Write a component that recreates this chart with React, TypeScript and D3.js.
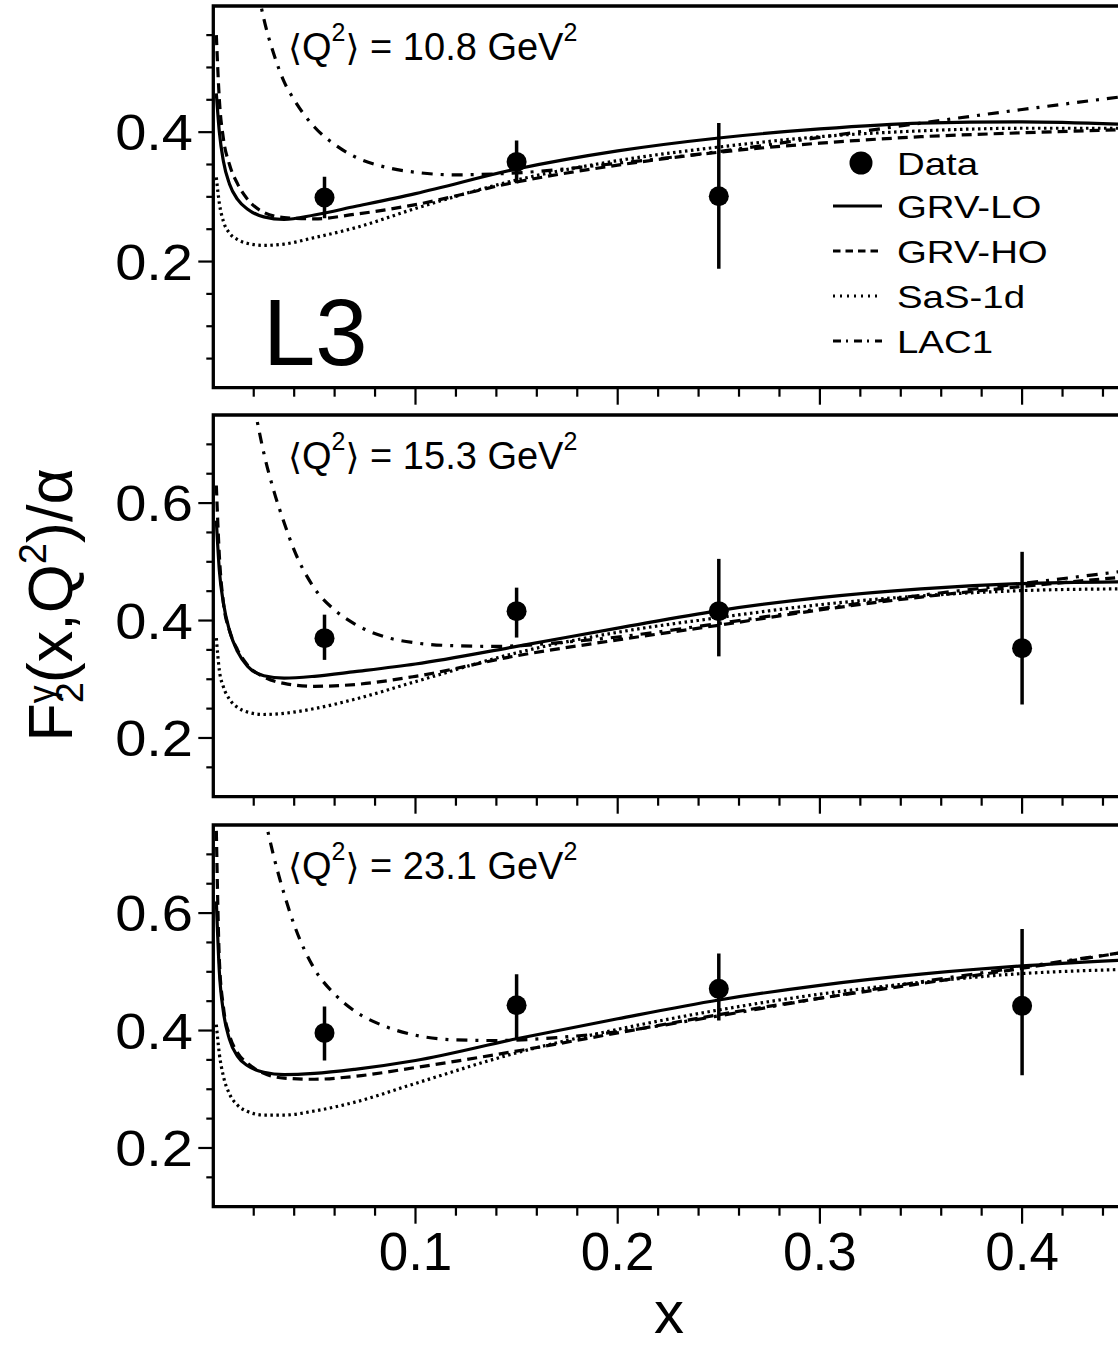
import React from 'react';
import * as d3 from 'd3';

// ---------- data ----------
const X_GRID = [0.0015, 0.003, 0.005, 0.008, 0.012, 0.017, 0.025, 0.035, 0.05, 0.07, 0.1, 0.15, 0.2, 0.25, 0.3, 0.35, 0.4, 0.45];

// Panel 1: <Q2> = 10.8 GeV2
const GRV_LO_1 = [0.46, 0.40, 0.355, 0.320, 0.296, 0.281, 0.269, 0.265, 0.272, 0.285, 0.305, 0.343, 0.371, 0.391, 0.405, 0.414, 0.416, 0.412];
const GRV_HO_1 = [0.55, 0.45, 0.39, 0.35, 0.32, 0.296, 0.276, 0.268, 0.266, 0.273, 0.288, 0.323, 0.349, 0.369, 0.383, 0.393, 0.399, 0.404];
const SAS_1 = [0.33, 0.29, 0.262, 0.244, 0.234, 0.228, 0.225, 0.227, 0.237, 0.252, 0.282, 0.326, 0.356, 0.377, 0.393, 0.402, 0.406, 0.406];
const LAC1_X_1 = [0.022, 0.025, 0.03, 0.035, 0.04, 0.05, 0.06, 0.07, 0.085, 0.1, 0.12, 0.15, 0.2, 0.25, 0.3, 0.35, 0.4, 0.45];
const LAC1_1 = [0.62, 0.575, 0.52, 0.478, 0.450, 0.408, 0.381, 0.362, 0.346, 0.338, 0.334, 0.337, 0.352, 0.370, 0.392, 0.414, 0.435, 0.455];
const DATA_X_1 = [0.055, 0.15, 0.25];
const DATA_Y_1 = [0.299, 0.354, 0.301];
const DATA_UP_1 = [0.032, 0.033, 0.113];
const DATA_DN_1 = [0.032, 0.033, 0.112];

// Panel 2: <Q2> = 15.3 GeV2
const GRV_LO_2 = [0.57, 0.485, 0.43, 0.383, 0.347, 0.322, 0.306, 0.302, 0.305, 0.313, 0.326, 0.356, 0.387, 0.417, 0.439, 0.454, 0.463, 0.466];
const GRV_HO_2 = [0.63, 0.51, 0.43, 0.383, 0.350, 0.324, 0.304, 0.293, 0.288, 0.291, 0.305, 0.340, 0.367, 0.392, 0.418, 0.440, 0.458, 0.474];
const SAS_2 = [0.37, 0.315, 0.287, 0.266, 0.252, 0.244, 0.240, 0.242, 0.250, 0.266, 0.296, 0.345, 0.380, 0.405, 0.427, 0.442, 0.451, 0.454];
const LAC1_X_2 = [0.02, 0.025, 0.03, 0.035, 0.04, 0.05, 0.06, 0.07, 0.085, 0.1, 0.12, 0.14, 0.17, 0.2, 0.25, 0.3, 0.35, 0.4, 0.45];
const LAC1_2 = [0.77, 0.685, 0.62, 0.567, 0.52, 0.455, 0.418, 0.394, 0.372, 0.362, 0.357, 0.356, 0.362, 0.372, 0.395, 0.42, 0.443, 0.463, 0.484];
const DATA_X_2 = [0.055, 0.15, 0.25, 0.4];
const DATA_Y_2 = [0.370, 0.416, 0.416, 0.353];
const DATA_UP_2 = [0.040, 0.040, 0.089, 0.164];
const DATA_DN_2 = [0.037, 0.045, 0.077, 0.096];

// Panel 3: <Q2> = 23.1 GeV2
const GRV_LO_3 = [0.62, 0.50, 0.432, 0.385, 0.356, 0.340, 0.329, 0.325, 0.327, 0.334, 0.349, 0.386, 0.420, 0.452, 0.477, 0.496, 0.510, 0.520];
const GRV_HO_3 = [0.74, 0.52, 0.44, 0.392, 0.362, 0.344, 0.327, 0.319, 0.317, 0.322, 0.337, 0.365, 0.396, 0.427, 0.455, 0.480, 0.506, 0.533];
const SAS_3 = [0.41, 0.36, 0.322, 0.292, 0.273, 0.262, 0.256, 0.256, 0.263, 0.278, 0.31, 0.362, 0.402, 0.435, 0.462, 0.482, 0.497, 0.504];
const LAC1_X_3 = [0.025, 0.03, 0.035, 0.04, 0.05, 0.06, 0.07, 0.085, 0.1, 0.12, 0.14, 0.17, 0.2, 0.25, 0.3, 0.35, 0.4, 0.45];
const LAC1_3 = [0.77, 0.695, 0.633, 0.58, 0.505, 0.462, 0.433, 0.407, 0.392, 0.384, 0.383, 0.388, 0.398, 0.425, 0.455, 0.483, 0.508, 0.533];
const DATA_X_3 = [0.055, 0.15, 0.25, 0.4];
const DATA_Y_3 = [0.396, 0.443, 0.471, 0.442];
const DATA_UP_3 = [0.045, 0.053, 0.060, 0.131];
const DATA_DN_3 = [0.047, 0.057, 0.054, 0.118];

const Q2_LABELS = ['10.8', '15.3', '23.1'];
const X_TICK_LABELS = [0.1, 0.2, 0.3, 0.4];
const LEGEND_LABELS = ['Data', 'GRV-LO', 'GRV-HO', 'SaS-1d', 'LAC1'];

// ---------- layout ----------
const W = 1118;
const H = 1349;
const X0 = 213.3;
const PX_PER_UNIT = 2022;
const FONT = "'Liberation Sans', Arial, Helvetica, sans-serif";

const STYLES: Record<string, string | undefined> = {
  lo: undefined,
  ho: '10,6',
  sas: '2.5,3.5',
  lac: '11,8,3,8',
};
const LEGEND_STYLES: Record<string, string | undefined> = {
  lo: undefined,
  ho: '7.5,5',
  sas: '2,5',
  lac: '8,5,2,6',
};

type Panel = {
  top: number;
  bottom: number;
  yDomain: [number, number];
  majors: number[];
  q2: string;
  lo: number[];
  ho: number[];
  sas: number[];
  lacX: number[];
  lac: number[];
  dx: number[];
  dy: number[];
  up: number[];
  dn: number[];
};

const PANELS: Panel[] = [
  { top: 6, bottom: 387.7, yDomain: [0.005, 0.595], majors: [0.2, 0.4], q2: Q2_LABELS[0],
    lo: GRV_LO_1, ho: GRV_HO_1, sas: SAS_1, lacX: LAC1_X_1, lac: LAC1_1,
    dx: DATA_X_1, dy: DATA_Y_1, up: DATA_UP_1, dn: DATA_DN_1 },
  { top: 415, bottom: 796.7, yDomain: [0.1, 0.75], majors: [0.2, 0.4, 0.6], q2: Q2_LABELS[1],
    lo: GRV_LO_2, ho: GRV_HO_2, sas: SAS_2, lacX: LAC1_X_2, lac: LAC1_2,
    dx: DATA_X_2, dy: DATA_Y_2, up: DATA_UP_2, dn: DATA_DN_2 },
  { top: 825, bottom: 1206.7, yDomain: [0.1, 0.75], majors: [0.2, 0.4, 0.6], q2: Q2_LABELS[2],
    lo: GRV_LO_3, ho: GRV_HO_3, sas: SAS_3, lacX: LAC1_X_3, lac: LAC1_3,
    dx: DATA_X_3, dy: DATA_Y_3, up: DATA_UP_3, dn: DATA_DN_3 },
];

const x = d3.scaleLinear().domain([0, 1]).range([X0, X0 + PX_PER_UNIT]);

function PanelView({ p, idx, last }: { p: Panel; idx: number; last: boolean }) {
  const y = d3.scaleLinear().domain(p.yDomain).range([p.bottom, p.top]);
  const line = d3
    .line<[number, number]>()
    .x((d) => x(d[0]))
    .y((d) => y(d[1]))
    .curve(d3.curveMonotoneX);
  const clipId = `clip${idx}`;
  const yMinor = d3.range(0, 0.8001, 0.05).filter((v) => v > p.yDomain[0] + 1e-6 && v < p.yDomain[1] - 1e-6);
  const xMinor = d3.range(0.02, 0.5001, 0.02);
  const isMajorY = (v: number) => p.majors.some((m) => Math.abs(m - v) < 1e-6);
  const isMajorX = (v: number) => Math.abs(v * 10 - Math.round(v * 10)) < 1e-6;
  const curves: [string, number[], number[]][] = [
    ['lo', X_GRID, p.lo],
    ['ho', X_GRID, p.ho],
    ['sas', X_GRID, p.sas],
    ['lac', p.lacX, p.lac],
  ];
  return (
    <g>
      <defs>
        <clipPath id={clipId}>
          <rect x={X0} y={p.top} width={W} height={p.bottom - p.top} />
        </clipPath>
      </defs>
      <g clipPath={`url(#${clipId})`}>
        {curves.map(([k, xs, ys]) => (
          <path
            key={k}
            d={line(xs.map((v, i) => [v, ys[i]] as [number, number])) || ''}
            fill="none"
            stroke="#000"
            strokeWidth={3.2}
            strokeDasharray={STYLES[k]}
          />
        ))}
        {p.dx.map((v, i) => (
          <g key={i}>
            <line x1={x(v)} x2={x(v)} y1={y(p.dy[i] + p.up[i])} y2={y(p.dy[i] - p.dn[i])} stroke="#000" strokeWidth={3.5} />
            <circle cx={x(v)} cy={y(p.dy[i])} r={10} fill="#000" />
          </g>
        ))}
      </g>
      {/* frame */}
      <path
        d={`M${W + 20},${p.top} H${X0} V${p.bottom} H${W + 20}`}
        fill="none"
        stroke="#000"
        strokeWidth={3.3}
      />
      {/* y ticks */}
      {yMinor.map((v) => (
        <line key={v} x1={X0} x2={X0 - (isMajorY(v) ? 15 : 7)} y1={y(v)} y2={y(v)} stroke="#000" strokeWidth={2.2} />
      ))}
      {p.majors.map((v) => (
        <g key={v} transform={`translate(193,${y(v) + 18}) scale(1.12,1)`}>
          <text x={0} y={0} textAnchor="end" fontSize={50} fontFamily={FONT}>
            {v.toFixed(1)}
          </text>
        </g>
      ))}
      {/* x ticks */}
      {xMinor.map((v) => (
        <line key={v} x1={x(v)} x2={x(v)} y1={p.bottom} y2={p.bottom + (isMajorX(v) ? 17 : 9)} stroke="#000" strokeWidth={2.2} />
      ))}
      {last &&
        X_TICK_LABELS.map((v) => (
          <text key={v} x={x(v)} y={1270} textAnchor="middle" fontSize={53} fontFamily={FONT}>
            {v.toFixed(1)}
          </text>
        ))}
      {/* Q2 label */}
      <text x={288} y={p.top + 54} fontSize={38} fontFamily={FONT}>
        <tspan fontFamily="'DejaVu Sans', sans-serif" fontSize={36}>⟨</tspan>
        <tspan>Q</tspan>
        <tspan dy={-19} fontSize={25}>2</tspan>
        <tspan dy={19} fontFamily="'DejaVu Sans', sans-serif" fontSize={36}>⟩</tspan>
        <tspan>{` = ${p.q2} GeV`}</tspan>
        <tspan dy={-19} fontSize={25}>2</tspan>
      </text>
    </g>
  );
}

function Legend() {
  const keys = ['lo', 'ho', 'sas', 'lac'];
  const rowY = [163, 206, 251, 296, 341];
  return (
    <g>
      <circle cx={861} cy={rowY[0]} r={11.5} fill="#000" />
      {keys.map((k, i) => (
        <line key={k} x1={833} x2={882} y1={rowY[i + 1]} y2={rowY[i + 1]} stroke="#000" strokeWidth={3} strokeDasharray={LEGEND_STYLES[k]} />
      ))}
      {LEGEND_LABELS.map((t, i) => (
        <g key={t} transform={`translate(897,${rowY[i] + 11.5}) scale(1.2,1)`}>
          <text x={0} y={0} fontSize={32} fontFamily={FONT}>
            {t}
          </text>
        </g>
      ))}
    </g>
  );
}

export default function App() {
  return (
    <svg
      width={W}
      height={H}
      viewBox={`0 0 ${W} ${H}`}
      style={{ position: 'absolute', left: 0, top: 0, background: '#fff' }}
    >
      <rect width={W} height={H} fill="#fff" />
      {PANELS.map((p, i) => (
        <PanelView key={i} p={p} idx={i} last={i === PANELS.length - 1} />
      ))}
      <Legend />
      <text x={263} y={365} fontSize={94} fontFamily={FONT}>L3</text>
      {/* y axis title */}
      <g transform="translate(72,605) rotate(-90)">
        <text x={0} y={0} textAnchor="middle" fontSize={63} fontFamily={FONT}>
          <tspan>F</tspan>
          <tspan dy={11} fontSize={38}>2</tspan>
          <tspan dx={-21} dy={-29} fontSize={36}>γ</tspan>
          <tspan dx={2} dy={18}>(x,Q</tspan>
          <tspan dy={-26} fontSize={38}>2</tspan>
          <tspan dy={26}>)/α</tspan>
        </text>
      </g>
      <text x={669} y={1333} textAnchor="middle" fontSize={60} fontFamily={FONT}>x</text>
    </svg>
  );
}
